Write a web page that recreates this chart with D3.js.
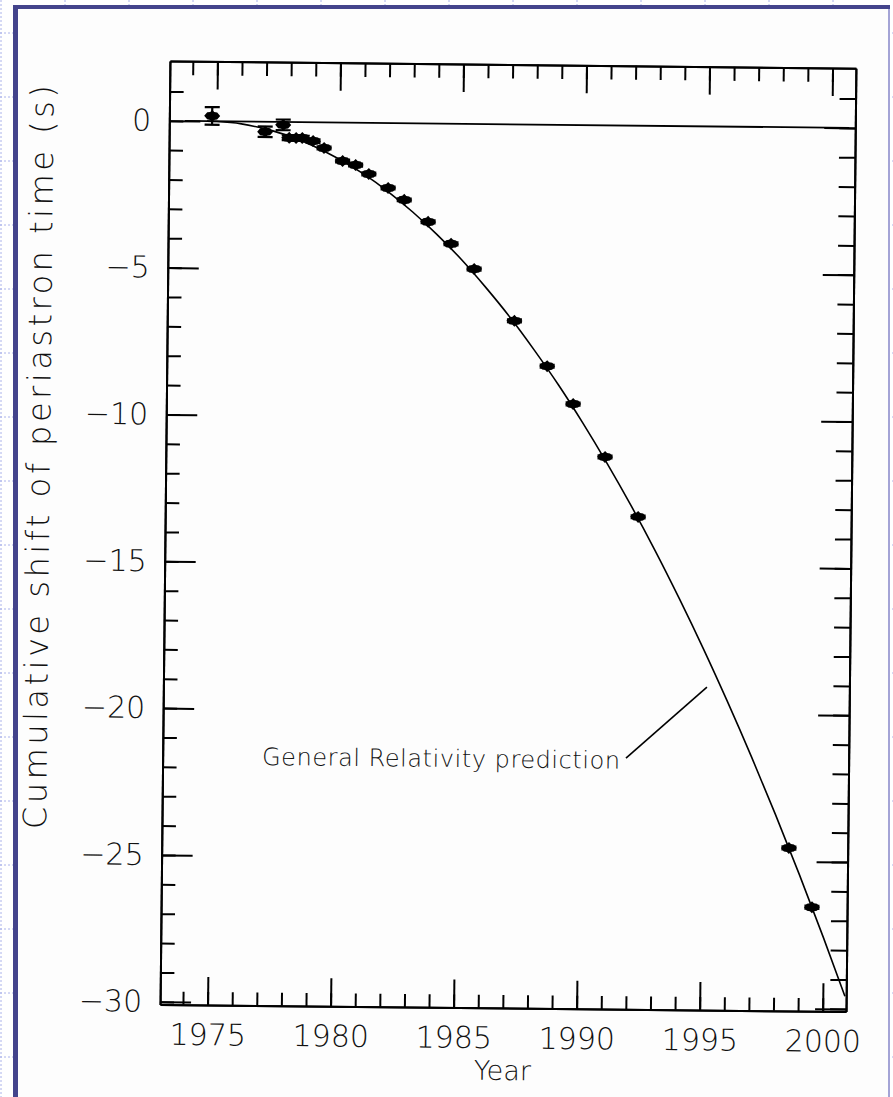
<!DOCTYPE html>
<html>
<head>
<meta charset="utf-8">
<script src="https://cdn.jsdelivr.net/npm/d3@7"></script>
<style>
  html, body { margin: 0; padding: 0; background: #fff; }
  svg { display: block; }
  text { font-family: "DejaVu Sans", sans-serif; font-weight: 200; fill: #111; }
</style>
</head>
<body>
<div id="chart"></div>
<script>
const obsYears = [1974.81, 1976.97, 1977.70, 1977.95, 1978.23, 1978.48, 1978.92, 1979.37,
  1980.13, 1980.66, 1981.20, 1981.99, 1982.65, 1983.63, 1984.57, 1985.52, 1987.18,
  1988.53, 1989.60, 1990.92, 1992.29, 1998.56, 1999.52];
const obsShift = [0.18, -0.34, -0.10, -0.54, -0.54, -0.54, -0.64, -0.87,
  -1.31, -1.44, -1.74, -2.21, -2.61, -3.35, -4.09, -4.94, -6.69,
  -8.22, -9.50, -11.29, -13.32, -24.54, -26.55];
const obsErr = [0.30, 0.18, 0.18, 0.08, 0.08, 0.08, 0.06, 0.05,
  0.05, 0.05, 0.05, 0.05, 0.05, 0.05, 0.05, 0.05, 0.05,
  0.05, 0.05, 0.05, 0.05, 0.05, 0.05];

// general relativity prediction curve
const grYears = [1974.6, 1975, 1976, 1977, 1978, 1979, 1980, 1981, 1982, 1983, 1984, 1985,
  1986, 1987, 1988, 1989, 1990, 1991, 1992, 1993, 1994, 1995, 1996, 1997, 1998, 1999, 2000, 2000.9];
const grShift = [0, -0.01, -0.08, -0.25, -0.49, -0.83, -1.25, -1.75, -2.34, -3.02, -3.78, -4.62,
  -5.56, -6.57, -7.68, -8.86, -10.14, -11.50, -12.94, -14.47, -16.09, -17.79, -19.58, -21.45,
  -23.41, -25.45, -27.58, -29.57];

const zeroLineYears = [1973.7, 2000.7];

const xMajorTicks = [1975, 1980, 1985, 1990, 1995, 2000];
const xMinorTicks = d3.range(1974, 2001);
const yMajorTicks = [0, -5, -10, -15, -20, -25, -30];
const yMinorTicks = d3.range(-30, 2);

const xTitle = "Year";
const yTitle = "Cumulative shift of periastron time (s)";
const noteText = "General Relativity prediction";

const W = 893, H = 1097;
const svg = d3.select('#chart').append('svg')
  .attr('width', W)
  .attr('height', H);

// page background: faint dotted grid, then the framed panel
const bg = svg.append('g');
bg.selectAll('line.h')
  .data(d3.range(33, H, 64))
  .enter().append('line')
  .attr('x1', 0).attr('x2', W)
  .attr('y1', d => d).attr('y2', d => d)
  .attr('stroke', '#aab2ea').attr('stroke-dasharray', '2,2');
bg.selectAll('line.v')
  .data(d3.range(1, W, 64))
  .enter().append('line')
  .attr('y1', 0).attr('y2', H)
  .attr('x1', d => d).attr('x2', d => d)
  .attr('stroke', '#aab2ea').attr('stroke-dasharray', '2,2');
bg.append('rect').attr('x', 13).attr('y', 5).attr('width', 877).attr('height', H).attr('fill', '#fdfdfd');
bg.append('rect').attr('x', 888).attr('y', 5).attr('width', 2).attr('height', H).attr('fill', '#a4a4d6');
bg.append('rect').attr('x', 13).attr('y', 5).attr('width', 877).attr('height', 4).attr('fill', '#44448c');
bg.append('rect').attr('x', 13).attr('y', 5).attr('width', 5).attr('height', H).attr('fill', '#44448c');

const plot = { left: 165, right: 851, top: 64.5, bottom: 1008 };

const x = d3.scaleLinear().domain([1973.07, 2000.95]).range([plot.left, plot.right]);
const y = d3.scaleLinear().domain([2.036, -30.09]).range([plot.top, plot.bottom]);

// the scanned original is tilted a little
const g = svg.append('g').attr('transform', 'rotate(0.6,505,535)');

function styleAxis(sel) {
  sel.attr('font-size', 30).attr('font-family', null);
  sel.select('.domain').attr('stroke', '#000').attr('stroke-width', 2);
  sel.selectAll('.tick line').attr('stroke', '#000').attr('stroke-width', 2);
}

const fmt = d3.format('d');

// bottom axis, ticks pointing up
g.append('g').attr('transform', `translate(0,${plot.bottom})`)
  .call(d3.axisBottom(x).tickValues(xMinorTicks).tickSizeInner(-13).tickSizeOuter(0).tickFormat(''))
  .call(styleAxis);
g.append('g').attr('transform', `translate(0,${plot.bottom})`)
  .call(d3.axisBottom(x).tickValues(xMajorTicks).tickSizeInner(-28).tickSizeOuter(0).tickPadding(19).tickFormat(fmt))
  .call(styleAxis);

// top axis, ticks pointing down
g.append('g').attr('transform', `translate(0,${plot.top})`)
  .call(d3.axisTop(x).tickValues(xMinorTicks).tickSizeInner(-14).tickSizeOuter(0).tickFormat(''))
  .call(styleAxis);
g.append('g').attr('transform', `translate(0,${plot.top})`)
  .call(d3.axisTop(x).tickValues(xMajorTicks).tickSizeInner(-28).tickSizeOuter(0).tickFormat(''))
  .call(styleAxis);

// left axis, ticks pointing right
g.append('g').attr('transform', `translate(${plot.left},0)`)
  .call(d3.axisLeft(y).tickValues(yMinorTicks).tickSizeInner(-14).tickSizeOuter(0).tickFormat(''))
  .call(styleAxis);
g.append('g').attr('transform', `translate(${plot.left},0)`)
  .call(d3.axisLeft(y).tickValues(yMajorTicks).tickSizeInner(-31).tickSizeOuter(0).tickPadding(18).tickFormat(fmt))
  .call(styleAxis);

// right axis, ticks pointing left
g.append('g').attr('transform', `translate(${plot.right},0)`)
  .call(d3.axisRight(y).tickValues(yMinorTicks).tickSizeInner(-16).tickSizeOuter(0).tickFormat(''))
  .call(styleAxis);
g.append('g').attr('transform', `translate(${plot.right},0)`)
  .call(d3.axisRight(y).tickValues(yMajorTicks).tickSizeInner(-31).tickSizeOuter(0).tickFormat(''))
  .call(styleAxis);

// zero-shift reference line
g.append('line')
  .attr('x1', x(zeroLineYears[0])).attr('x2', x(zeroLineYears[1]))
  .attr('y1', y(0)).attr('y2', y(0))
  .attr('stroke', '#000').attr('stroke-width', 1.8);

// GR prediction
const line = d3.line()
  .x(d => x(d[0]))
  .y(d => y(d[1]))
  .curve(d3.curveMonotoneX);
g.append('path')
  .datum(d3.zip(grYears, grShift))
  .attr('fill', 'none')
  .attr('stroke', '#000')
  .attr('stroke-width', 1.6)
  .attr('d', line);

// observations: error bars then markers
const obs = d3.zip(obsYears, obsShift, obsErr);
const eb = g.append('g').attr('stroke', '#000').attr('stroke-width', 2.2);
obs.forEach(d => {
  const cx = x(d[0]);
  eb.append('line').attr('x1', cx).attr('x2', cx).attr('y1', y(d[1] + d[2])).attr('y2', y(d[1] - d[2]));
  eb.append('line').attr('x1', cx - 7.5).attr('x2', cx + 7.5).attr('y1', y(d[1] + d[2])).attr('y2', y(d[1] + d[2]));
  eb.append('line').attr('x1', cx - 7.5).attr('x2', cx + 7.5).attr('y1', y(d[1] - d[2])).attr('y2', y(d[1] - d[2]));
});

// filled blob marker, wider than tall
const blob = {
  draw(ctx) {
    ctx.moveTo(-8, 0);
    ctx.lineTo(-5, -3.5);
    ctx.lineTo(-2, -4);
    ctx.lineTo(0, -6);
    ctx.lineTo(2, -4);
    ctx.lineTo(5, -3.5);
    ctx.lineTo(8, 0);
    ctx.lineTo(5, 3.5);
    ctx.lineTo(2, 4);
    ctx.lineTo(0, 6);
    ctx.lineTo(-2, 4);
    ctx.lineTo(-5, 3.5);
    ctx.closePath();
  }
};
g.selectAll('path.pt')
  .data(obs)
  .enter().append('path')
  .attr('class', 'pt')
  .attr('d', d3.symbol(blob))
  .attr('transform', d => `translate(${x(d[0])},${y(d[1])})`)
  .attr('fill', '#000');

// annotation
g.append('text')
  .attr('x', x(1977.11))
  .attr('y', y(-21.9))
  .attr('font-size', 24)
  .attr('textLength', 358)
  .attr('lengthAdjust', 'spacing')
  .text(noteText);
g.append('line')
  .attr('x1', x(1991.9)).attr('y1', y(-21.54))
  .attr('x2', x(1995.16)).attr('y2', y(-19.09))
  .attr('stroke', '#000').attr('stroke-width', 1.6);

// axis titles
g.append('text')
  .attr('x', (plot.left + plot.right) / 2)
  .attr('y', 1080)
  .attr('text-anchor', 'middle')
  .attr('font-size', 27)
  .text(xTitle);
g.append('text')
  .attr('transform', 'translate(49,462) rotate(-90)')
  .attr('text-anchor', 'middle')
  .attr('font-size', 32)
  .attr('textLength', 744)
  .attr('lengthAdjust', 'spacing')
  .text(yTitle);
</script>
</body>
</html>
